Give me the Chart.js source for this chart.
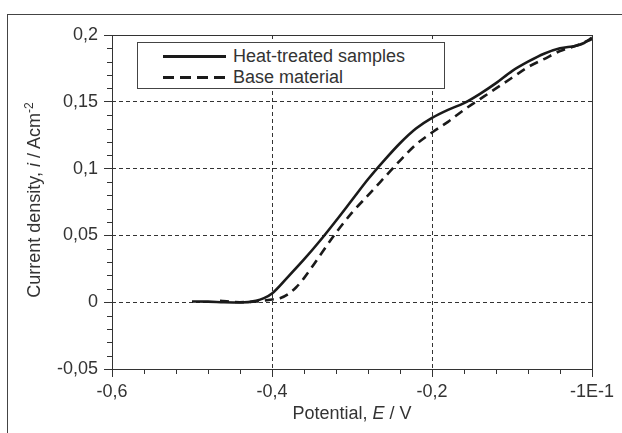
<!DOCTYPE html>
<html>
<head>
<meta charset="utf-8">
<script src="https://cdn.jsdelivr.net/npm/chart.js@4"></script>
<style>
  body { margin: 0; background: #fff; }
  #wrap { position: relative; width: 622px; height: 433px; overflow: hidden; font-family: "Liberation Sans", Arial, sans-serif; color: #333; }
  #frame { position: absolute; left: 7px; top: 14px; width: 700px; height: 500px; border: 1px solid #444; }
  #chart { position: absolute; left: 0; top: 0; }
  .legend { position: absolute; left: 137px; top: 42px; width: 306px; height: 45px; border: 1px solid #444; background: #fff; }
  .legend .row { position: absolute; left: 0; height: 22px; line-height: 22px; font-size: 18px; white-space: nowrap; }
  .legend .sample { position: absolute; left: 25px; width: 63px; top: 10px; height: 3px; }
  .legend .solid { background: #1a1a1a; }
  .legend .dashed { background: repeating-linear-gradient(to right, #1a1a1a 0 11px, transparent 11px 17px); }
  .legend .txt { position: absolute; left: 95px; }
  .ytitle { position: absolute; left: -116px; top: 187px; width: 300px; height: 26px; line-height: 26px; text-align: center; font-size: 18px; transform: rotate(-90deg); white-space: nowrap; }
  .xtitle { position: absolute; left: 112px; top: 401px; width: 480px; line-height: 24px; text-align: center; font-size: 18px; }
  sup { font-size: 12px; line-height: 0; }
</style>
</head>
<body>
<div id="wrap">
  <div id="frame"></div>
  <canvas id="chart" width="622" height="433"></canvas>
  <div class="legend">
    <div class="row" style="top: 2px; width: 100%;"><div class="sample solid"></div><span class="txt">Heat-treated samples</span></div>
    <div class="row" style="top: 23px; width: 100%;"><div class="sample dashed"></div><span class="txt">Base material</span></div>
  </div>
  <div class="ytitle">Current density, <i>i</i> / Acm<sup>-2</sup></div>
  <div class="xtitle">Potential, <i>E</i> / V</div>
</div>
<script>
// ---------- Data ----------- //
const heatE = [-0.5, -0.48, -0.46, -0.44, -0.42, -0.41, -0.40, -0.38, -0.36, -0.34, -0.32, -0.30, -0.28, -0.26, -0.24, -0.22, -0.20, -0.18, -0.16, -0.14, -0.12, -0.10, -0.08, -0.06, -0.04, -0.02, -0.01, 0];
const heatI = [0.0005, 0.0004, 0, -0.0002, 0.001, 0.003, 0.0065, 0.019, 0.032, 0.046, 0.061, 0.0765, 0.092, 0.106, 0.119, 0.130, 0.138, 0.144, 0.149, 0.156, 0.164, 0.173, 0.180, 0.186, 0.190, 0.192, 0.194, 0.198];

const baseE = [-0.465, -0.44, -0.42, -0.40, -0.39, -0.38, -0.37, -0.36, -0.34, -0.32, -0.30, -0.28, -0.26, -0.24, -0.22, -0.20, -0.18, -0.16, -0.14, -0.12, -0.10, -0.08, -0.06, -0.04, -0.02, 0];
const baseI = [0.001, 0, 0.0005, 0.002, 0.003, 0.006, 0.011, 0.018, 0.035, 0.052, 0.067, 0.080, 0.093, 0.106, 0.118, 0.127, 0.135, 0.144, 0.152, 0.160, 0.168, 0.176, 0.182, 0.188, 0.192, 0.197];

const xTickLabels = ["-0,6", "-0,4", "-0,2", "-1E-1"];
const yTickLabels = ["-0,05", "0", "0,05", "0,1", "0,15", "0,2"];

const toPoints = (xs, ys) => xs.map((x, i) => ({ x: x, y: ys[i] }));

// ---------- Plot frame + minor ticks ----------- //
const framePlugin = {
  id: "framePlugin",
  afterDraw(chart) {
    const { ctx, chartArea: a, scales } = chart;
    ctx.save();
    ctx.strokeStyle = "#333";
    ctx.lineWidth = 1;
    ctx.strokeRect(Math.round(a.left) + 0.5, Math.round(a.top) + 0.5, Math.round(a.width), Math.round(a.height));
    ctx.beginPath();
    for (let i = 1; i < 25; i++) {
      if (i % 5 === 0) continue;
      const py = Math.round(scales.y.getPixelForValue(-0.05 + i * 0.01)) + 0.5;
      ctx.moveTo(a.left - 5, py);
      ctx.lineTo(a.left, py);
    }
    for (let i = 1; i < 15; i++) {
      if (i % 5 === 0) continue;
      const px = Math.round(scales.x.getPixelForValue(-0.6 + i * 0.04)) + 0.5;
      ctx.moveTo(px, a.bottom);
      ctx.lineTo(px, a.bottom + 5);
    }
    ctx.stroke();
    ctx.restore();
  },
};

// no dashed grid line on the frame edges
const gridColor = (min, max) => (c) => {
  const v = c.tick ? c.tick.value : 0;
  return Math.abs(v - min) < 1e-6 || Math.abs(v - max) < 1e-6 ? "rgba(0,0,0,0)" : "#333";
};

new Chart(document.getElementById("chart"), {
  type: "scatter",
  data: {
    datasets: [
      {
        label: "Heat-treated samples",
        data: toPoints(heatE, heatI),
        showLine: true,
        borderColor: "#1a1a1a",
        borderWidth: 2.6,
        pointRadius: 0,
        cubicInterpolationMode: "monotone",
      },
      {
        label: "Base material",
        data: toPoints(baseE, baseI),
        showLine: true,
        borderColor: "#1a1a1a",
        borderWidth: 2.6,
        borderDash: [9, 6],
        pointRadius: 0,
        cubicInterpolationMode: "monotone",
      },
    ],
  },
  options: {
    responsive: false,
    animation: false,
    layout: { padding: { top: 35, right: 30, left: 0, bottom: 0 } },
    plugins: { legend: { display: false }, tooltip: { enabled: false } },
    scales: {
      x: {
        type: "linear",
        min: -0.6,
        max: 0,
        afterBuildTicks: (s) => { s.ticks = [-0.6, -0.4, -0.2, 0].map((v) => ({ value: v })); },
        afterFit: (s) => { s.height = 64; },
        ticks: {
          callback: (v, i) => xTickLabels[i],
          color: "#333",
          padding: 4,
          maxRotation: 0,
          font: { family: "Liberation Sans", size: 18 },
        },
        grid: { color: gridColor(-0.6, 0), tickColor: "#333", tickLength: 8, lineWidth: 1 },
        border: { display: false, dash: [4, 3] },
      },
      y: {
        type: "linear",
        min: -0.05,
        max: 0.2,
        afterBuildTicks: (s) => { s.ticks = [-0.05, 0, 0.05, 0.1, 0.15, 0.2].map((v) => ({ value: v })); },
        afterFit: (s) => { s.width = 112; },
        ticks: {
          callback: (v, i) => yTickLabels[i],
          color: "#333",
          padding: 6,
          font: { family: "Liberation Sans", size: 18 },
        },
        grid: { color: gridColor(-0.05, 0.2), tickColor: "#333", tickLength: 8, lineWidth: 1 },
        border: { display: false, dash: [4, 3] },
      },
    },
  },
  plugins: [framePlugin],
});
</script>
</body>
</html>
